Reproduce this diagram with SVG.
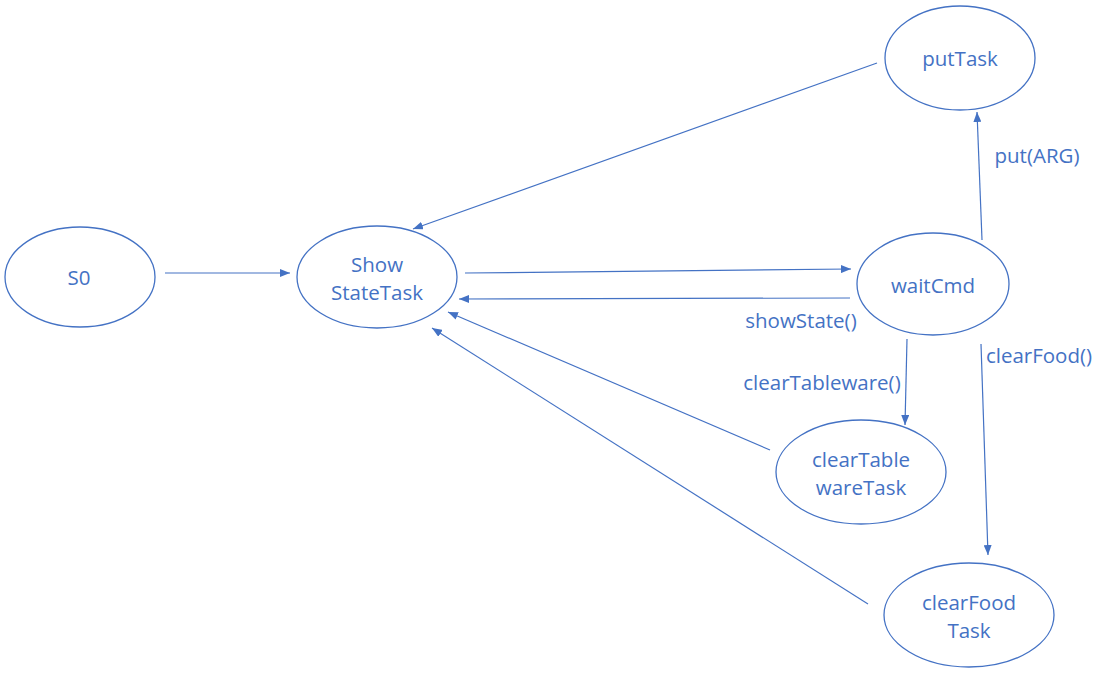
<svg xmlns="http://www.w3.org/2000/svg" width="1110" height="679" viewBox="0 0 1110 679">
<style>
.n{fill:#fff;stroke:#4472C4;stroke-width:1.3}
.t{font-family:"Open Sans","Liberation Sans",sans-serif;font-size:20.5px;fill:#4472C4;text-anchor:middle;dominant-baseline:central}
.e{stroke:#4472C4;stroke-width:1.2;fill:none;marker-end:url(#a)}
</style>
<defs>
<marker id="a" viewBox="0 0 10 8" refX="10" refY="4" markerWidth="10" markerHeight="8" markerUnits="userSpaceOnUse" orient="auto">
<path d="M0,0 L10,4 L0,8 Z" fill="#4472C4"/>
</marker>
</defs>
<rect width="1110" height="679" fill="#fff"/>
<g id="connectors">
<line class="e" x1="165" y1="273" x2="290" y2="273"/>
<line class="e" x1="465" y1="273" x2="851" y2="269"/>
<line class="e" x1="850" y1="298" x2="459" y2="299"/>
<line class="e" x1="877" y1="63" x2="413" y2="229"/>
<line class="e" x1="982" y1="240" x2="977" y2="112"/>
<line class="e" x1="907" y1="339" x2="905" y2="425"/>
<line class="e" x1="981" y1="344" x2="988" y2="555"/>
<line class="e" x1="770" y1="450" x2="448" y2="312"/>
<line class="e" x1="868" y1="604" x2="432" y2="328"/>
<text class="t" x="801" y="320">showState()</text>
<text class="t" x="1037" y="155">put(ARG)</text>
<text class="t" x="822" y="382">clearTableware()</text>
<text class="t" x="1039" y="355">clearFood()</text>
</g>
<g id="S0">
<ellipse class="n" cx="80" cy="277" rx="75" ry="50"/>
<text class="t" x="79" y="277">S0</text>
</g>
<g id="ShowStateTask">
<ellipse class="n" cx="377" cy="277" rx="80" ry="51"/>
<text class="t" x="377" y="264">Show</text>
<text class="t" x="377" y="292">StateTask</text>
</g>
<g id="waitCmd">
<ellipse class="n" cx="933" cy="284" rx="76" ry="51"/>
<text class="t" x="933" y="285">waitCmd</text>
</g>
<g id="putTask">
<ellipse class="n" cx="960" cy="58" rx="75" ry="52"/>
<text class="t" x="960" y="58">putTask</text>
</g>
<g id="clearTablewareTask">
<ellipse class="n" cx="861" cy="472" rx="85" ry="52"/>
<text class="t" x="861" y="459">clearTable</text>
<text class="t" x="861" y="487">wareTask</text>
</g>
<g id="clearFoodTask">
<ellipse class="n" cx="969" cy="615" rx="85" ry="52"/>
<text class="t" x="969" y="602">clearFood</text>
<text class="t" x="969" y="630">Task</text>
</g>
</svg>
